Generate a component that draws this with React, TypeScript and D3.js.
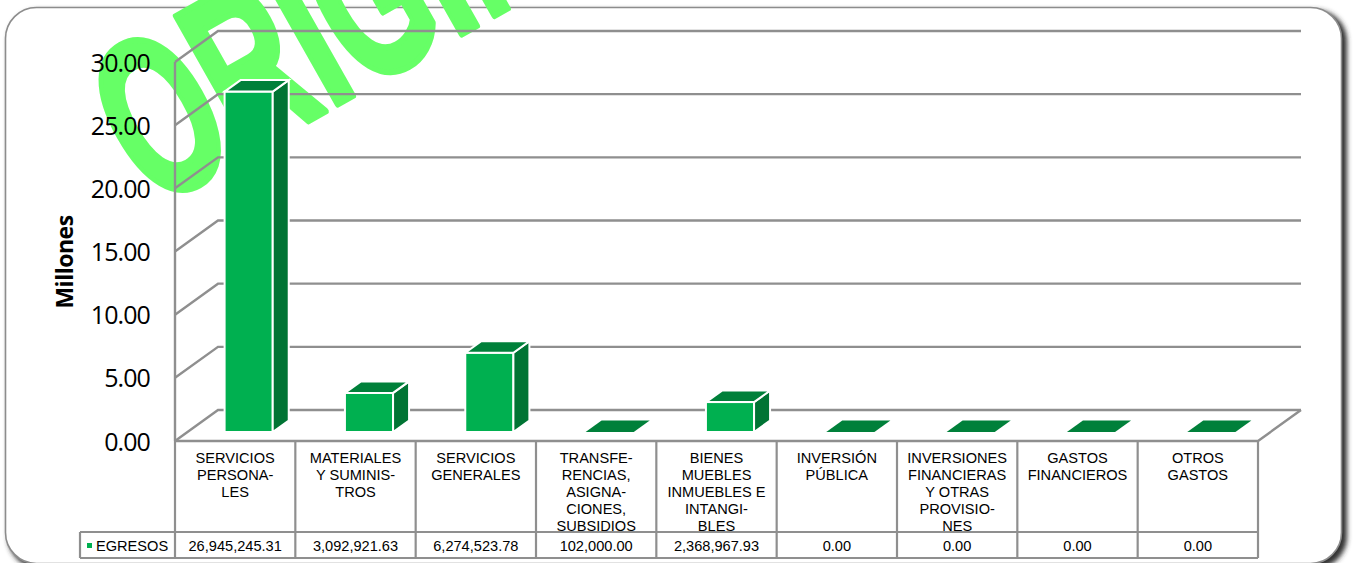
import React from "react";
import * as d3 from "d3";

const categories: string[][] = [
  ["SERVICIOS", "PERSONA-", "LES"],
  ["MATERIALES", "Y SUMINIS-", "TROS"],
  ["SERVICIOS", "GENERALES"],
  ["TRANSFE-", "RENCIAS,", "ASIGNA-", "CIONES,", "SUBSIDIOS"],
  ["BIENES", "MUEBLES", "INMUEBLES E", "INTANGI-", "BLES"],
  ["INVERSIÓN", "PÚBLICA"],
  ["INVERSIONES", "FINANCIERAS", "Y OTRAS", "PROVISIO-", "NES"],
  ["GASTOS", "FINANCIEROS"],
  ["OTROS", "GASTOS"],
];
const egresos = [26945245.31, 3092921.63, 6274523.78, 102000, 2368967.93, 0, 0, 0, 0];
const egresosLabels = ["26,945,245.31", "3,092,921.63", "6,274,523.78", "102,000.00", "2,368,967.93", "0.00", "0.00", "0.00", "0.00"];
const yTicks = [0, 5, 10, 15, 20, 25, 30];
const seriesName = "EGRESOS";
const axisTitle = "Millones";
const watermark = "ORIGINAL";

const W = 1353, H = 563;
const left = 175, right = 1258, floorY = 441, topY = 62;
const dx = 43, dy = -31;
const GRID = "#8f8f8f";
const FRONT = "#00b050", SIDE = "#007434", TOP = "#00803a";

export default function App() {
  const x = d3.scaleBand<number>().domain(d3.range(categories.length)).range([left, right]);
  const y = d3.scaleLinear().domain([0, 30]).range([floorY, topY]);
  const barW = x.bandwidth() * 0.4;
  const barDx = 16, barDy = -11.5;
  const barShiftX = 13.5, barShiftY = -9;
  return (
    <svg width={W} height={H} style={{ position: "absolute", left: 0, top: 0, display: "block", fontFamily: "'Liberation Sans'" }}>
      <defs>
        <filter id="sh" x="-2%" y="-2%" width="104%" height="106%">
          <feGaussianBlur stdDeviation="2.6" />
        </filter>
        <clipPath id="page"><rect x={0} y={0} width={W} height={H} /></clipPath>
      </defs>
      <g clipPath="url(#page)">
        <rect x={8} y={10} width={1339} height={558} rx={31} fill="#333" filter="url(#sh)" />
        <rect x={5.5} y={7.5} width={1336} height={556} rx={31} fill="#fff" stroke="#8c8c8c" strokeWidth={1.6} />
        <text transform="translate(153,209) rotate(-29.5) scale(0.95,1.6)" fontFamily="'Liberation Sans'" fontWeight={700} fontSize={142} fill="#66ff66" stroke="#66ff66" strokeWidth={4} strokeLinejoin="round">{watermark}</text>

        {/* walls and gridlines */}
        <g stroke={GRID} strokeWidth={2.4} fill="none">
          <line x1={left} x2={left} y1={topY} y2={floorY} />
          {yTicks.map((t) => (
            <polyline key={t} points={`${left},${y(t)} ${left + dx},${y(t) + dy} ${1301},${y(t) + dy}`} />
          ))}
          <polyline points={`${1301},${floorY + dy} ${right},${floorY} ${left},${floorY}`} />
        </g>

        {/* bars */}
        {egresos.map((v, i) => {
          const x0 = (x(i) as number) + (x.bandwidth() - barW) / 2 + barShiftX;
          const x1 = x0 + barW;
          const base = floorY + barShiftY;
          const h = floorY - y(v / 1e6);
          const t = base - h;
          if (v < 500000) {
            return (
              <polygon key={i} fill={TOP} points={`${x0},${base} ${x1},${base} ${x1 + barDx},${base + barDy} ${x0 + barDx},${base + barDy}`} />
            );
          }
          return (
            <g key={i} stroke="#fff" strokeWidth={2}>
              <rect x={x0} y={t} width={barW} height={h} fill={FRONT} />
              <polygon fill={SIDE} points={`${x1},${t} ${x1 + barDx},${t + barDy} ${x1 + barDx},${base + barDy} ${x1},${base}`} />
              <polygon fill={TOP} points={`${x0},${t} ${x1},${t} ${x1 + barDx},${t + barDy} ${x0 + barDx},${t + barDy}`} />
            </g>
          );
        })}

        {/* y axis labels */}
        {yTicks.map((t) => (
          <text key={t} x={150} y={y(t) + 9.5} textAnchor="end" fontFamily="'Open Sans'" fontSize={25} letterSpacing={-0.9} fill="#000">{d3.format(".2f")(t)}</text>
        ))}
        <text transform="translate(73,262) rotate(-90)" textAnchor="middle" fontFamily="'Open Sans'" fontWeight={700} fontSize={23} letterSpacing={-0.5} fill="#000">{axisTitle}</text>

        {/* data table */}
        <g stroke={GRID} strokeWidth={2.2} fill="none">
          <line x1={left} x2={left} y1={floorY} y2={558} />
          {categories.map((_, i) => (
            <line key={i} x1={(x(i) as number) + x.bandwidth()} x2={(x(i) as number) + x.bandwidth()} y1={floorY} y2={558} />
          ))}
          <line x1={80} x2={right} y1={532} y2={532} />
          <line x1={80} x2={right} y1={558} y2={558} />
          <line x1={80} x2={80} y1={532} y2={558} />
        </g>
        {categories.map((lines, i) => (
          <text key={i} textAnchor="middle" fontSize={14.6} fill="#000">
            {lines.map((l, j) => (
              <tspan key={j} x={(x(i) as number) + x.bandwidth() / 2} y={463 + j * 17}>{l}</tspan>
            ))}
          </text>
        ))}
        {egresosLabels.map((l, i) => (
          <text key={i} x={(x(i) as number) + x.bandwidth() / 2} y={551} textAnchor="middle" fontSize={14.6} fill="#000">{l}</text>
        ))}
        <rect x={87} y={543} width={5} height={5} fill={FRONT} />
        <text x={96} y={551} fontSize={14.6} fill="#000">{seriesName}</text>
      </g>
    </svg>
  );
}
